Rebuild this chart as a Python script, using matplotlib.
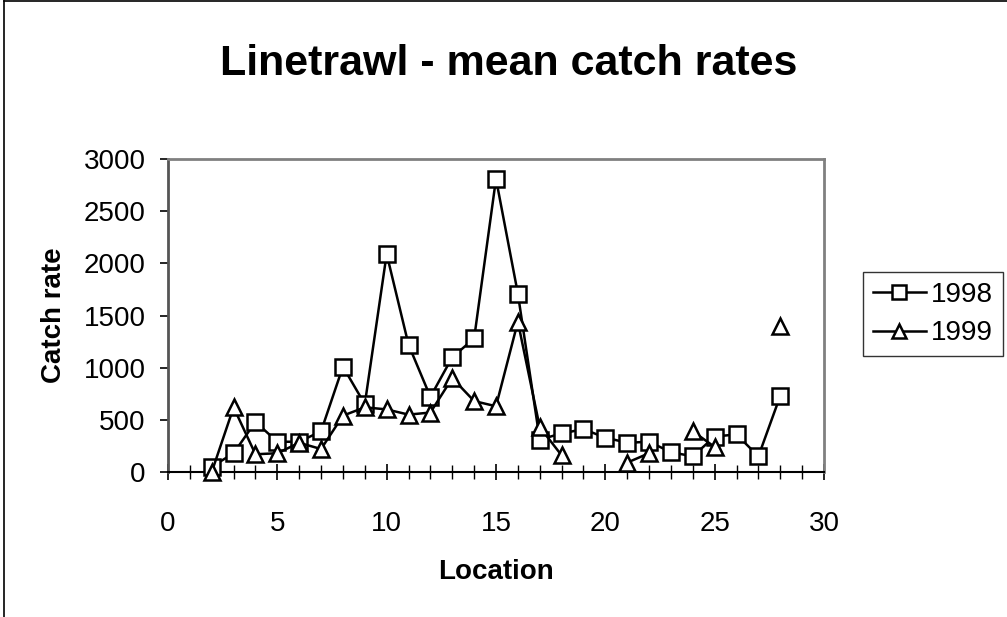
"""
Linetrawl mean catch rates by location, 1998 vs 1999
"""

import matplotlib

matplotlib.use("Agg")
import matplotlib.pyplot as plt
import numpy as np
from matplotlib.lines import Line2D
from matplotlib.ticker import MultipleLocator

nan = np.nan

# Data
locations = list(range(2, 29))
rates_1998 = [50, 180, 480, 290, 290, 390, 1010, 650, 2090, 1220, 720, 1100, 1280,
              2810, 1710, 310, 370, 410, 330, 280, 290, 190, 150, 340, 360, 150, 730]
rates_1999 = [0, 620, 170, 180, 280, 220, 540, 620, 600, 550, 570, 900, 680,
              630, 1440, 430, 160, nan, nan, 90, 180, nan, 390, 240, nan, nan, 1400]

x_ticks = [0, 5, 10, 15, 20, 25, 30]
y_ticks = [0, 500, 1000, 1500, 2000, 2500, 3000]

plt.rcParams["font.family"] = ["Liberation Sans", "DejaVu Sans"]

fig = plt.figure(figsize=(10.07, 6.17), dpi=100)
ax = fig.add_axes([168 / 1007, 1 - 472 / 617, (824 - 168) / 1007, (472 - 159) / 617])

style = dict(color="black", lw=1.8, markersize=11, markeredgewidth=1.8,
             markerfacecolor="white", clip_on=False)
ax.plot(locations, rates_1998, marker="s", label="1998", zorder=3, **style)
ax.plot(locations, rates_1999, marker="^", label="1999", zorder=4, **style)

ax.set_xlim(0, 30)
ax.set_ylim(0, 3000)
ax.set_xticks(x_ticks)
ax.set_yticks(y_ticks)
ax.xaxis.set_minor_locator(MultipleLocator(1))

# Excel-style frame: grey plot area border, black x axis
for side in ["top", "right", "left"]:
    ax.spines[side].set_color("#808080")
    ax.spines[side].set_linewidth(2)
ax.spines["left"].set_color("#555555")
ax.spines["bottom"].set_color("black")
ax.spines["bottom"].set_linewidth(1.5)

ax.tick_params(axis="x", which="major", direction="inout", length=12, width=1.2,
               pad=22, labelsize=20)
ax.tick_params(axis="x", which="minor", direction="inout", length=10, width=1)
ax.tick_params(axis="y", which="major", direction="out", length=6, width=1.2,
               pad=10, labelsize=20)

ax.set_xlabel("Location", fontsize=20, fontweight="bold", labelpad=16)
ax.set_ylabel("Catch rate", fontsize=20, fontweight="bold", labelpad=12)

fig.text(509 / 1007, 1 - 64 / 617, "Linetrawl - mean catch rates",
         fontsize=31, fontweight="bold", ha="center", va="center")

leg = ax.legend(loc="upper left", bbox_to_anchor=(863 / 1007, 1 - 272 / 617),
                bbox_transform=fig.transFigure, borderaxespad=0, fontsize=20,
                frameon=True, fancybox=False, shadow=False, handlelength=1.9,
                handletextpad=0.2, labelspacing=0.45, borderpad=0.35, markerscale=0.9)
leg.get_frame().set_edgecolor("black")
leg.get_frame().set_linewidth(1)

# Outer chart border (left and top edges visible)
fig.add_artist(Line2D([4 / 1007, 4 / 1007], [0, 1 - 1 / 617], color="black", lw=1.2,
                      transform=fig.transFigure))
fig.add_artist(Line2D([4 / 1007, 1], [1 - 1 / 617, 1 - 1 / 617], color="black", lw=1.2,
                      transform=fig.transFigure))

fig.savefig("out.png", dpi=100)
